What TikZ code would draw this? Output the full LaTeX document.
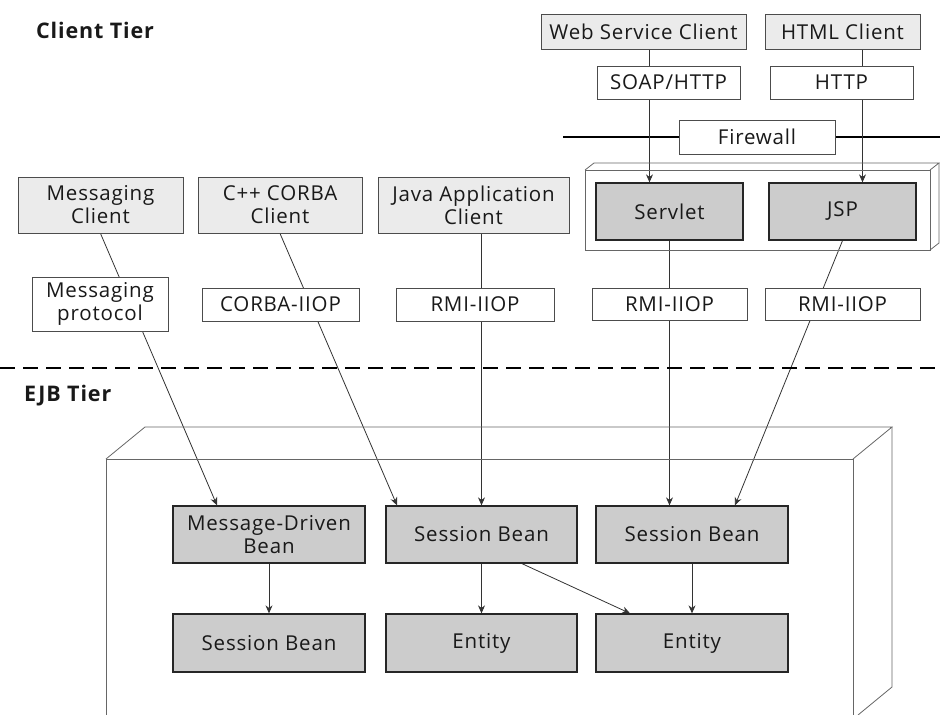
\documentclass[tikz,border=0pt]{standalone}
\usepackage{fontspec}
\setmainfont{Open Sans}[LetterSpace=4]
\usetikzlibrary{arrows.meta,backgrounds}

\tikzset{
  client/.style={draw=black!70, fill=black!8, line width=0.9pt, align=center, inner sep=0pt, text=black!90, font=\fontsize{20.5}{23}\selectfont},
  proto/.style={client, fill=white},
  bean/.style={client, draw=black!85, fill=black!20, line width=1.3pt},
  tier/.style={anchor=west, inner sep=0pt, text=black!90, font=\fontsize{21.5}{25}\selectfont\bfseries},
  frame/.style={draw=black!60, line width=0.8pt},
  link/.style={draw=black!80, line width=0.8pt},
  flow/.style={link, -{Stealth[length=8pt,width=7pt]}},
  tierline/.style={line width=2pt, dash pattern=on 15pt off 8pt},
}

\begin{document}
\begin{tikzpicture}[x=1pt,y=-1pt]
\useasboundingbox (0,0) rectangle (940,715);
\node[tier] (ct) at (36,30) {Client Tier};
\node[tier] (et) at (24,396) {EJB Tier};
\draw[frame] (585,170) rectangle (930,250);
\draw[frame] (585,170) -- (594,163) -- (939,163) -- (930,170);
\draw[frame] (939,163) -- (939,243) -- (930,250);
\draw[frame] (106,715) -- (106,459) -- (853,459) -- (853,715);
\draw[frame] (106,459) -- (145,427) -- (892,427) -- (853,459);
\draw[frame] (892,427) -- (892,687) -- (858,715);
\node[client, minimum width=205pt, minimum height=35pt] (wsc) at (643.5,31.5) {Web Service Client};
\node[client, minimum width=155pt, minimum height=35pt] (html) at (842.5,31.5) {HTML Client};
\node[proto, minimum width=143pt, minimum height=33pt] (soap) at (668.5,82.5) {SOAP/HTTP};
\node[proto, minimum width=143pt, minimum height=33pt] (http) at (841.5,82.5) {HTTP};
\node[proto, minimum width=156pt, minimum height=34pt] (fw) at (757,137) {Firewall};
\coordinate (fwl) at (563,137);
\coordinate (fwr) at (940,137);
\node[bean, minimum width=147pt, minimum height=57pt] (servlet) at (669.5,211.5) {Servlet};
\node[bean, minimum width=147pt, minimum height=57pt] (jsp) at (842.5,211.5) {JSP};
\coordinate (svin) at ([xshift=-20pt]servlet.north);
\coordinate (jspin) at ([xshift=20pt]jsp.north);
\node[client, minimum width=165pt, minimum height=56pt] (mc) at (100.5,205) {Messaging\\Client};
\node[client, minimum width=164pt, minimum height=56pt] (cpp) at (280,205) {C++ CORBA\\Client};
\node[client, minimum width=191pt, minimum height=56pt] (java) at (473.5,205) {Java Application\\Client};
\node[proto, minimum width=136pt, minimum height=54pt] (mp) at (100,304) {Messaging\\protocol};
\node[proto, minimum width=157pt, minimum height=33pt] (corba) at (280.5,304.5) {CORBA-IIOP};
\node[proto, minimum width=158pt, minimum height=33pt] (rmia) at (475,304.5) {RMI-IIOP};
\node[proto, minimum width=155pt, minimum height=32pt] (rmib) at (669.5,304) {RMI-IIOP};
\node[proto, minimum width=155pt, minimum height=32pt] (rmic) at (842.5,304) {RMI-IIOP};
\coordinate (dl) at (0,368);
\coordinate (dr) at (940,368);
\draw[tierline] (dl) -- (dr);
\node[bean, minimum width=192pt, minimum height=57pt] (mdb) at (269,534.5) {Message-Driven\\Bean};
\node[bean, minimum width=191pt, minimum height=57pt] (sbm) at (481.5,534.5) {Session Bean};
\node[bean, minimum width=192pt, minimum height=57pt] (sbr) at (692,534.5) {Session Bean};
\node[bean, minimum width=192pt, minimum height=58pt] (sbl) at (269,643) {Session Bean};
\node[bean, minimum width=191pt, minimum height=58pt] (enta) at (481.5,643) {Entity};
\node[bean, minimum width=192pt, minimum height=58pt] (entb) at (692,643) {Entity};
\begin{pgfonlayer}{background}
\draw[line width=1.4pt] (fwl) -- (fw);
\draw[line width=1.4pt] (fw) -- (fwr);
\draw[flow] (wsc.south -| svin) -- (svin);
\draw[flow] (html.south -| jspin) -- (jspin);
\draw[flow] (mc.south) -- ([xshift=-52pt]mdb.north);
\draw[flow] (cpp.south) -- ([xshift=-84.5pt]sbm.north);
\draw[flow] (java.south -| sbm.north) -- (sbm.north);
\draw[flow] (servlet.south) -- (servlet.south |- sbr.north);
\draw[flow] (jsp.south) -- ([xshift=43pt]sbr.north);
\draw[flow] (mdb) -- (sbl);
\draw[flow] (sbm) -- (enta);
\draw[flow] (sbr) -- (entb);
\draw[flow] ([xshift=40.5pt]sbm.south) -- ([xshift=-62pt]entb.north);
\end{pgfonlayer}
\end{tikzpicture}
\end{document}
